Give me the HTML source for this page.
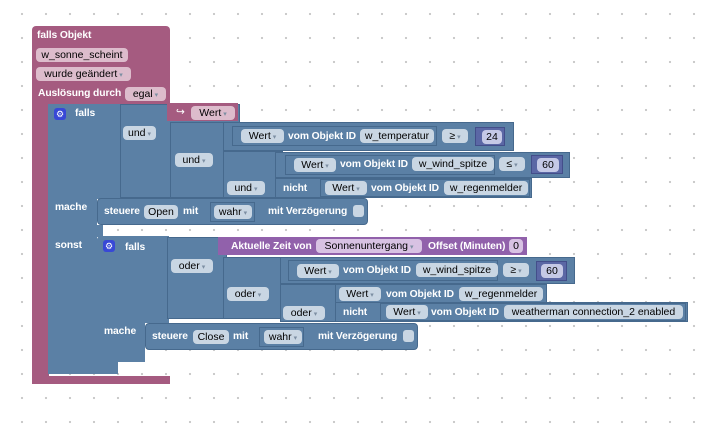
<!DOCTYPE html>
<html><head><meta charset="utf-8"><style>
body{margin:0;width:713px;height:434px;overflow:hidden;background:#fff;
background-image:radial-gradient(circle,#c8c8c8 1px,transparent 1.3px);background-size:24px 24px;background-position:10px 2px;font-family:"Liberation Sans",Arial,sans-serif;}
.a{position:absolute;box-sizing:border-box}
.p{background:#a55b80}
.b{background:#5b80a5;border:1px solid #46698d}
.b2{background:#5b80a5}
.m{background:#5b67a5;border:1px solid #434e8a}
.t{background:#9161ab}
.l{position:absolute;color:#fff;font-weight:bold;font-size:10.3px;line-height:13px;white-space:nowrap;letter-spacing:-0.1px}
.f{position:absolute;background:#c9d6e3;color:#000;font-size:10.5px;line-height:14px;padding:0 2px;border-radius:4px;white-space:nowrap;box-sizing:border-box;height:14px;text-align:center;overflow:hidden}
.fp{background:#ddbccc}
.fm{background:#c5c9e6}
.ft{background:#d8c2e3}
.dd::after{content:" ▾";font-size:7px;color:#7d8fa3}
.chk{position:absolute;width:11px;height:12px;background:#c9d6e3;border-radius:3px}
.gear{position:absolute;width:12px;height:12px;background:#3848d6;border-radius:3px;color:#fff;font-size:9px;line-height:12px;text-align:center}
</style></head><body>
<div class="a p" style="left:32px;top:26px;width:138px;height:80px;border-radius:4px 4px 0 0"></div>
<div class="a p" style="left:32px;top:100px;width:17px;height:284px;border-radius:0 0 0 6px"></div>
<div class="a p" style="left:32px;top:376px;width:138px;height:8px"></div>
<div class="l" style="left:37px;top:29px">falls Objekt</div>
<div class="f fp" style="left:36px;top:48px;width:92px">w_sonne_scheint</div>
<div class="f fp dd" style="left:36px;top:67px;width:95px">wurde geändert</div>
<div class="l" style="left:38px;top:87px">Auslösung durch</div>
<div class="f fp dd" style="left:125px;top:87px;width:41px">egal</div>

<div class="a b2" style="left:48px;top:104px;width:74px;height:95px;border-radius:4px 0 0 0"></div>
<div class="a b2" style="left:48px;top:104px;width:49px;height:270px"></div>
<div class="a b2" style="left:48px;top:362px;width:70px;height:12px"></div>
<div class="a b2" style="left:48px;top:225px;width:55px;height:12px"></div>
<div class="gear" style="left:54px;top:108px">⚙</div>
<div class="l" style="left:75px;top:107px">falls</div>
<div class="l" style="left:55px;top:201px">mache</div>
<div class="l" style="left:55px;top:239px">sonst</div>

<div class="a b" style="left:120px;top:104px;width:120px;height:94px"></div>
<div class="f dd" style="left:123px;top:126px;width:33px">und</div>
<div class="a p" style="left:167px;top:103px;width:71px;height:18px"></div>
<div class="l" style="left:176px;top:106px;font-weight:normal">↪</div>
<div class="f fp dd" style="left:191px;top:106px;width:44px">Wert</div>
<div class="a b" style="left:170px;top:122px;width:60px;height:76px"></div>
<div class="f dd" style="left:175px;top:153px;width:38px">und</div>
<div class="a b" style="left:223px;top:122px;width:291px;height:29px"></div>
<div class="a b" style="left:232px;top:126px;width:205px;height:20px"></div>
<div class="f dd" style="left:241px;top:129px;width:43px">Wert</div>
<div class="l" style="left:288px;top:130px">vom Objekt ID</div>
<div class="f" style="left:360px;top:129px;width:74px">w_temperatur</div>
<div class="f dd" style="left:442px;top:129px;width:26px">≥</div>
<div class="a m" style="left:475px;top:127px;width:30px;height:19px"></div>
<div class="f fm" style="left:482px;top:130px;width:20px">24</div>
<div class="a b" style="left:223px;top:151px;width:60px;height:47px"></div>
<div class="f dd" style="left:227px;top:181px;width:38px">und</div>
<div class="a b" style="left:275px;top:152px;width:295px;height:26px"></div>
<div class="a b" style="left:285px;top:155px;width:210px;height:20px"></div>
<div class="f dd" style="left:294px;top:158px;width:42px">Wert</div>
<div class="l" style="left:340px;top:158px">vom Objekt ID</div>
<div class="f" style="left:412px;top:157px;width:82px">w_wind_spitze</div>
<div class="f dd" style="left:499px;top:157px;width:26px">≤</div>
<div class="a m" style="left:531px;top:155px;width:32px;height:19px"></div>
<div class="f fm" style="left:537px;top:158px;width:22px">60</div>
<div class="a b" style="left:275px;top:178px;width:257px;height:20px"></div>
<div class="l" style="left:283px;top:182px">nicht</div>
<div class="a b" style="left:320px;top:179px;width:210px;height:18px"></div>
<div class="f dd" style="left:325px;top:181px;width:42px">Wert</div>
<div class="l" style="left:371px;top:182px">vom Objekt ID</div>
<div class="f" style="left:444px;top:181px;width:84px">w_regenmelder</div>
<div class="a b" style="left:97px;top:198px;width:271px;height:27px;border-radius:4px"></div>
<div class="l" style="left:104px;top:205px">steuere</div>
<div class="f" style="left:144px;top:205px;width:34px">Open</div>
<div class="l" style="left:183px;top:205px">mit</div>
<div class="a b" style="left:210px;top:202px;width:45px;height:20px"></div>
<div class="f dd" style="left:214px;top:205px;width:38px">wahr</div>
<div class="l" style="left:268px;top:205px">mit Verzögerung</div>
<div class="chk" style="left:353px;top:205px"></div>

<div class="a b2" style="left:97px;top:236px;width:72px;height:87px;border-radius:4px 0 0 0"></div>
<div class="a b2" style="left:97px;top:236px;width:48px;height:126px;border-radius:4px 0 0 0"></div>
<div class="a b2" style="left:97px;top:350px;width:21px;height:12px"></div>
<div class="gear" style="left:103px;top:240px">⚙</div>
<div class="l" style="left:125px;top:241px">falls</div>
<div class="l" style="left:104px;top:325px">mache</div>
<div class="a b" style="left:167px;top:237px;width:60px;height:82px"></div>
<div class="f dd" style="left:171px;top:259px;width:42px">oder</div>
<div class="a t" style="left:218px;top:237px;width:309px;height:18px"></div>
<div class="l" style="left:231px;top:240px">Aktuelle Zeit von</div>
<div class="f ft dd" style="left:316px;top:239px;width:106px">Sonnenuntergang</div>
<div class="l" style="left:428px;top:240px">Offset (Minuten)</div>
<div class="f ft" style="left:509px;top:239px;width:14px;padding:0">0</div>
<div class="a b" style="left:223px;top:257px;width:60px;height:62px"></div>
<div class="f dd" style="left:227px;top:287px;width:42px">oder</div>
<div class="a b" style="left:280px;top:257px;width:295px;height:27px"></div>
<div class="a b" style="left:288px;top:260px;width:210px;height:21px"></div>
<div class="f dd" style="left:297px;top:264px;width:42px">Wert</div>
<div class="l" style="left:343px;top:264px">vom Objekt ID</div>
<div class="f" style="left:416px;top:263px;width:82px">w_wind_spitze</div>
<div class="f dd" style="left:503px;top:263px;width:26px">≥</div>
<div class="a m" style="left:536px;top:261px;width:31px;height:20px"></div>
<div class="f fm" style="left:541px;top:264px;width:22px">60</div>
<div class="a b" style="left:280px;top:284px;width:58px;height:38px"></div>
<div class="f dd" style="left:283px;top:306px;width:42px">oder</div>
<div class="a b" style="left:335px;top:284px;width:212px;height:19px"></div>
<div class="f dd" style="left:339px;top:287px;width:42px">Wert</div>
<div class="l" style="left:386px;top:288px">vom Objekt ID</div>
<div class="f" style="left:459px;top:287px;width:84px">w_regenmelder</div>
<div class="a b" style="left:335px;top:302px;width:353px;height:20px"></div>
<div class="l" style="left:343px;top:306px">nicht</div>
<div class="a b" style="left:380px;top:303px;width:306px;height:18px"></div>
<div class="f dd" style="left:386px;top:305px;width:42px">Wert</div>
<div class="l" style="left:431px;top:306px">vom Objekt ID</div>
<div class="f" style="left:504px;top:305px;width:179px">weatherman connection_2 enabled</div>
<div class="a b" style="left:145px;top:323px;width:273px;height:27px;border-radius:4px"></div>
<div class="l" style="left:152px;top:330px">steuere</div>
<div class="f" style="left:193px;top:330px;width:36px">Close</div>
<div class="l" style="left:233px;top:330px">mit</div>
<div class="a b" style="left:259px;top:327px;width:45px;height:20px"></div>
<div class="f dd" style="left:264px;top:330px;width:38px">wahr</div>
<div class="l" style="left:318px;top:330px">mit Verzögerung</div>
<div class="chk" style="left:403px;top:330px"></div>
</body></html>
